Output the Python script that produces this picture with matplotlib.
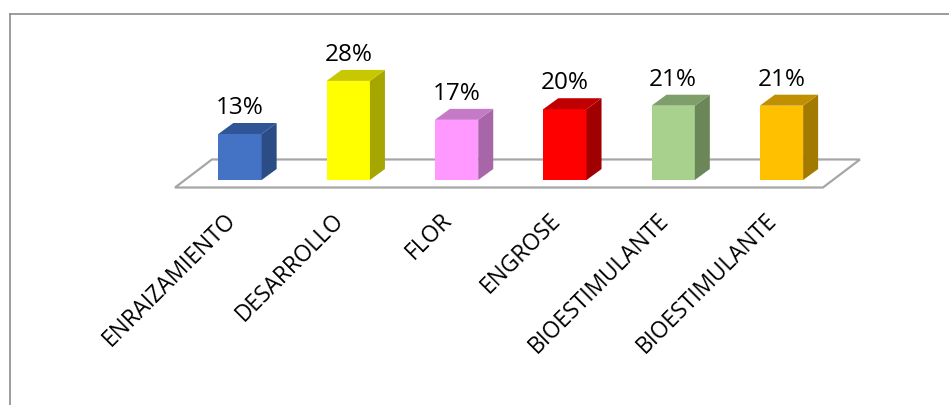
import matplotlib.pyplot as plt
from matplotlib.patches import Polygon
from matplotlib.lines import Line2D

# Datos del gráfico
categorias = ['ENRAIZAMIENTO', 'DESARROLLO', 'FLOR', 'ENGROSE',
              'BIOESTIMULANTE', 'BIOESTIMULANTE']
porcentajes = [13, 28, 17, 20, 21, 21]
etiquetas = ['13%', '28%', '17%', '20%', '21%', '21%']

# Colores: cara frontal, cara superior, cara lateral
frente = ['#4472C4', '#FFFF00', '#FF99FF', '#FF0000', '#A9D18E', '#FFC000']
arriba = ['#2F5597', '#C8C800', '#C679C6', '#C00000', '#7F9F6A', '#C09000']
lado = ['#2C4C86', '#A6A600', '#A866A8', '#A00000', '#6B8759', '#A37A00']

plt.rcParams['font.family'] = ['Open Sans', 'DejaVu Sans']

fig = plt.figure(figsize=(9.49, 4.05), dpi=100)
ax = fig.add_axes([0, 0, 1, 1])
ax.set_xlim(-2.216, 6.547)
ax.set_ylim(-63.56, 50.85)
ax.axis('off')

ancho = 0.40
dx, dy = 0.1385, 3.1   # profundidad de cada barra

# Suelo en perspectiva
suelo = Polygon([(-0.60, -2.12), (5.383, -2.12), (5.725, 5.8), (-0.259, 5.8)],
                closed=True, facecolor='white', edgecolor='#A6A6A6', linewidth=1.6)
ax.add_patch(suelo)

for i, v in enumerate(porcentajes):
    x0 = i - ancho / 2
    x1 = i + ancho / 2
    ax.bar(i, v, width=ancho, color=frente[i], zorder=3)
    ax.add_patch(Polygon([(x1, 0), (x1 + dx, dy), (x1 + dx, v + dy), (x1, v)],
                         closed=True, facecolor=lado[i], edgecolor='none', zorder=3))
    ax.add_patch(Polygon([(x0, v), (x1, v), (x1 + dx, v + dy), (x0 + dx, v + dy)],
                         closed=True, facecolor=arriba[i], edgecolor='none', zorder=3))
    ax.text(i, v + dy + 2.5, etiquetas[i], ha='center', va='baseline',
            fontsize=17.5, color='black', zorder=4)
    ax.text(i - 0.15, -8.0, categorias[i], ha='right', va='top', rotation=45,
            rotation_mode='anchor', fontsize=16.3, color='black')

# Marco del área del gráfico
fig.add_artist(Line2D([9.5 / 949, 9.5 / 949], [0, 1 - 13.5 / 405],
                      transform=fig.transFigure, color='#8C8C8C', linewidth=1.2))
fig.add_artist(Line2D([9.5 / 949, 1], [1 - 13.5 / 405, 1 - 13.5 / 405],
                      transform=fig.transFigure, color='#8C8C8C', linewidth=1.2))

fig.savefig('out.png', dpi=100)
